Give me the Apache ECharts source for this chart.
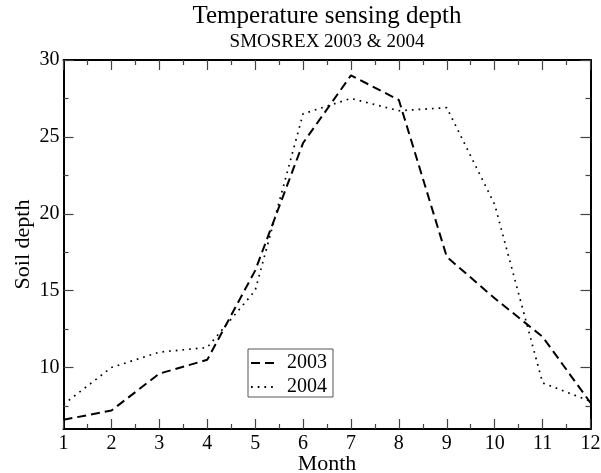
<!DOCTYPE html>
<html>
<head>
<meta charset="utf-8">
<script src="https://cdn.jsdelivr.net/npm/echarts@6/dist/echarts.min.js"></script>
<style>html,body{margin:0;padding:0;background:#fff;}#c{width:601px;height:473px;}</style>
</head>
<body>
<div id="c"></div>
<script>
const months = [1, 2, 3, 4, 5, 6, 7, 8, 9, 10, 11, 12];
const depth2003 = [6.6, 7.2, 9.6, 10.5, 16.3, 24.6, 29.0, 27.4, 17.2, 14.5, 12.0, 7.7];
const depth2004 = [7.6, 10.0, 11.0, 11.3, 15.0, 26.5, 27.5, 26.7, 26.9, 20.6, 9.0, 7.8];
const yMajorTicks = [10, 15, 20, 25, 30];
const yMinorTicks = [7.5, 12.5, 17.5, 22.5, 27.5];
const titleText = 'Temperature sensing depth';
const subtitleText = 'SMOSREX 2003 & 2004';

const FONT = 'Liberation Serif';
const chart = echarts.init(document.getElementById('c'), null, {renderer: 'canvas'});

const tickStyle = {color: '#444', width: 1.2};
function xAx(pos, showLabel) {
  return {
    type: 'value', position: pos, min: 1, max: 12, interval: 1,
    name: showLabel ? 'Month' : '', nameLocation: 'middle', nameGap: 24, nameMoveOverlap: false,
    nameTextStyle: {fontFamily: FONT, fontSize: 22, color: '#000'},
    axisLine: {show: true, onZero: false, lineStyle: {color: '#000', width: 2}},
    axisTick: {show: true, inside: true, length: 10, lineStyle: tickStyle},
    minorTick: {show: true, splitNumber: 2, length: 5, lineStyle: tickStyle},
    axisLabel: {show: showLabel, margin: 5, fontFamily: FONT, fontSize: 20, color: '#000'},
    splitLine: {show: false}, minorSplitLine: {show: false}
  };
}
function yAx(pos, major, showLabel, withLine) {
  return {
    type: 'value', position: pos, min: 6, max: 30, offset: 0,
    name: showLabel ? 'Soil depth' : '', nameLocation: 'middle', nameGap: 29, nameMoveOverlap: false,
    nameTextStyle: {fontFamily: FONT, fontSize: 22, color: '#000'},
    axisLine: {show: withLine, onZero: false, lineStyle: {color: '#000', width: 2}},
    axisTick: {show: true, inside: true, length: major ? 10 : 5, lineStyle: tickStyle,
               customValues: major ? yMajorTicks : yMinorTicks},
    axisLabel: {show: showLabel, margin: 4, fontFamily: FONT, fontSize: 20, color: '#000',
                customValues: yMajorTicks},
    splitLine: {show: false}
  };
}

chart.setOption({
  animation: false,
  backgroundColor: '#fff',
  title: {
    text: titleText, subtext: subtitleText,
    left: 327, top: 4, textAlign: 'center', padding: 0, itemGap: 4,
    textStyle: {fontFamily: FONT, fontSize: 25, fontWeight: 'normal', color: '#000'},
    subtextStyle: {fontFamily: FONT, fontSize: 19, color: '#000'}
  },
  grid: {left: 63.5, right: 10.5, top: 60, bottom: 44, containLabel: false, outerBoundsMode: 'none'},
  xAxis: [xAx('bottom', true), xAx('top', false)],
  yAxis: [yAx('left', true, true, true), yAx('left', false, false, false),
          yAx('right', true, false, true), yAx('right', false, false, false)],
  legend: {
    orient: 'vertical', left: 248, top: 349,
    padding: [4, 6, 0, 2], itemGap: 4, itemWidth: 25, itemHeight: 14,
    borderColor: '#555', borderWidth: 1, backgroundColor: '#fff',
    itemStyle: {color: 'rgba(0,0,0,0)', borderWidth: 0, opacity: 0},
    textStyle: {fontFamily: FONT, fontSize: 20, color: '#000', lineHeight: 20, padding: [0, 0, 0, 6]},
    data: ['2003', '2004']
  },
  series: [
    {name: '2003', type: 'line', xAxisIndex: 0, yAxisIndex: 0, symbol: 'none',
     data: months.map((m, i) => [m, depth2003[i]]),
     lineStyle: {color: '#000', width: 2, type: [9, 5]}, itemStyle: {color: '#000'}},
    {name: '2004', type: 'line', xAxisIndex: 0, yAxisIndex: 0, symbol: 'none',
     data: months.map((m, i) => [m, depth2004[i]]),
     lineStyle: {color: '#000', width: 1.7, type: [1.7, 5]}, itemStyle: {color: '#000'}}
  ]
});
</script>
</body>
</html>
